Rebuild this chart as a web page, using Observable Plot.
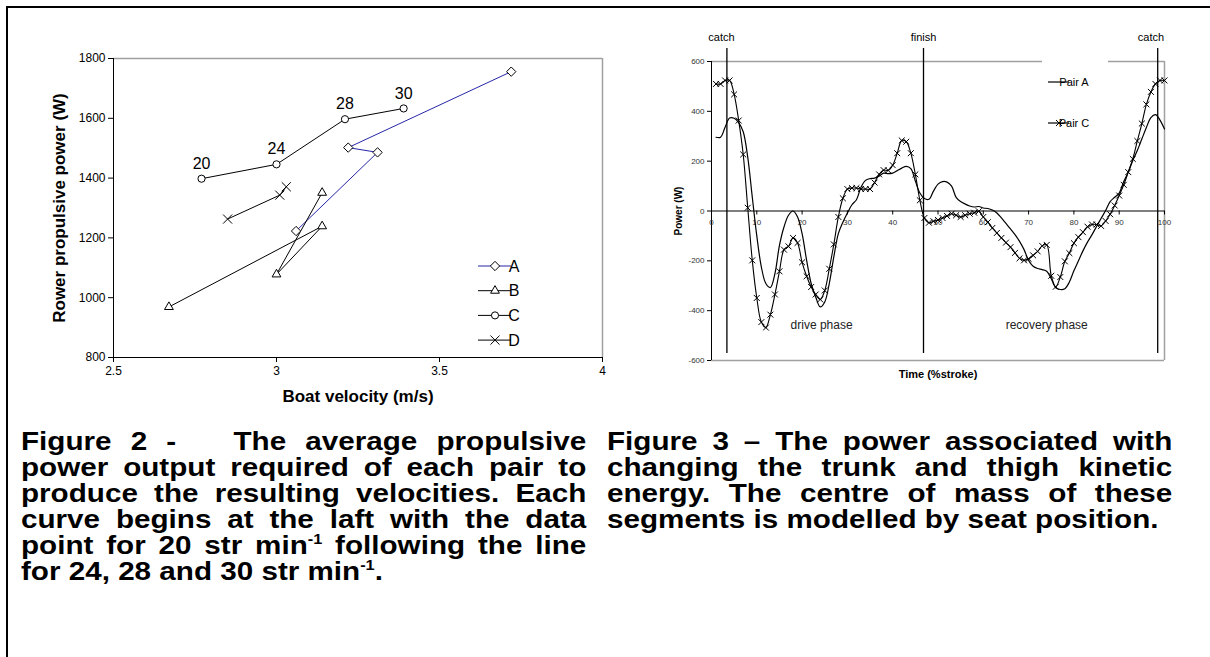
<!DOCTYPE html>
<html><head><meta charset="utf-8">
<script src="https://cdn.jsdelivr.net/npm/d3@7"></script>
<script src="https://cdn.jsdelivr.net/npm/@observablehq/plot@0.6"></script>
<style>
body{margin:0;background:#fff;font-family:"Liberation Sans",Arial,sans-serif;}
#page{position:relative;width:1210px;height:657px;overflow:hidden;background:#fff;}
#border{position:absolute;left:6px;top:6px;width:1400px;height:800px;border-top:2px solid #000;border-left:2px solid #000;}
#left{position:absolute;left:0;top:0;}
#right{position:absolute;left:620px;top:0;}
.cap{position:absolute;top:428px;width:477px;font-weight:bold;font-size:25px;line-height:26px;color:#000;
  font-family:"Liberation Sans",Arial,sans-serif;transform-origin:0 0;transform:scaleX(1.185);}
.cap div{text-align:justify;text-align-last:justify;white-space:normal;}
.cap div.last{text-align:left;text-align-last:left;}
.cap sup{font-size:0.55em;line-height:0;vertical-align:0.75em;}
#cap1{left:21px;}
#cap2{left:607px;}
svg{overflow:visible;}
</style></head>
<body>
<div id="page">
  <div id="border"></div>
  <div id="left"></div>
  <div id="right"></div>
  <div class="cap" id="cap1">
    <div>Figure 2 - &nbsp; The average propulsive</div>
    <div>power output required of each pair to</div>
    <div>produce the resulting velocities. Each</div>
    <div>curve begins at the laft with the data</div>
    <div>point for 20 str min<sup>-1</sup> following the line</div>
    <div class="last">for 24, 28 and 30 str min<sup>-1</sup>.</div>
  </div>
  <div class="cap" id="cap2">
    <div>Figure 3 – The power associated with</div>
    <div>changing the trunk and thigh kinetic</div>
    <div>energy. The centre of mass of these</div>
    <div class="last">segments is modelled by seat position.</div>
  </div>
</div>
<script>
// ---------- Figure 2 data ----------
const pairs = ["A", "B", "C", "D"];
const strokeRates = ["20", "24", "28", "30"];
const velocityA = [3.06, 3.31, 3.22, 3.72];
const powerA    = [1223, 1486, 1502, 1756];
const velocityB = [2.67, 3.14, 3.00, 3.14];
const powerB    = [969, 1239, 1078, 1351];
const velocityC = [2.77, 3.00, 3.21, 3.39];
const powerC    = [1398, 1446, 1597, 1633];
const velocityD = [2.85, 3.01, 3.03];
const powerD    = [1263, 1343, 1371];
const velTicks = [2.5, 3, 3.5, 4];
const powTicks = [800, 1000, 1200, 1400, 1600, 1800];

// ---------- Figure 3 data ----------
const strokeTime = d3.range(1, 101);
const powerPairA = [
  296, 296, 336, 373, 372, 355, 318, 216, 56, -100,
  -224, -291, -307, -251, -138, -64, -17, 0, -24, -91,
  -198, -291, -345, -385, -365, -291, -184, -91, -45, -8,
  25, 45, 95, 123, 130, 132, 140, 152, 150, 152,
  162, 172, 179, 170, 120, 72, 50, 47, 80, 108,
  118, 116, 100, 55, 38, 28, 20, 16, 18, 12,
  10, 4, -8, -28, -50, -72, -95, -122, -155, -198,
  -222, -231, -235, -242, -272, -308, -315, -312, -285, -240,
  -200, -160, -125, -95, -62, -30, 2, 38, 55, 72,
  118, 156, 203, 243, 289, 335, 375, 387, 365, 329];
const powerPairC = [
  510, 510, 524, 524, 468, 363, 227, 13, -198, -349,
  -446, -468, -416, -335, -242, -155, -142, -108, -128, -206,
  -262, -305, -335, -355, -319, -232, -134, -24, 51, 88,
  92, 92, 88, 88, 88, 114, 147, 164, 163, 184,
  232, 283, 278, 232, 147, 43, -28, -47, -41, -36,
  -28, -20, -11, -17, -24, -17, -11, -7, -1, -24,
  -45, -68, -88, -108, -127, -145, -168, -190, -198, -192,
  -178, -162, -140, -136, -260, -304, -265, -202, -169, -129,
  -105, -85, -63, -54, -54, -60, -40, -13, 22, 62,
  105, 156, 209, 281, 351, 428, 478, 510, 524, 524];
const timeTicks = [0, 10, 20, 30, 40, 50, 60, 70, 80, 90, 100];
const powerTicks = [-600, -400, -200, 0, 200, 400, 600];
const events = ["catch", "finish", "catch"];
const eventTime = [3.4, 46.8, 98.5];
const eventLabelTime = [2.2, 46.8, 97.0];
const phases = ["drive phase", "recovery phase"];
const phaseTime = [24.3, 74.0];
const phasePower = [-459, -459];
const legend3 = ["Pair A", "Pair C"];

const FONT = '"Liberation Sans", Arial, sans-serif';

// ---------- Figure 2 ----------
const style2 = {
  A: {v: velocityA, p: powerA, symbol: "diamond2", color: "#2626a8", d3sym: d3.symbolDiamond2},
  B: {v: velocityB, p: powerB, symbol: "triangle2", color: "#000", d3sym: d3.symbolTriangle2},
  C: {v: velocityC, p: powerC, symbol: "circle", color: "#000", d3sym: d3.symbolCircle},
  D: {v: velocityD, p: powerD, symbol: "times", color: "#000", d3sym: d3.symbolTimes}
};
const marks2 = [
  Plot.ruleX([4], {stroke: "#a0a0a0", strokeWidth: 1.5}),
  Plot.ruleY([1800], {stroke: "#a0a0a0", strokeWidth: 1.5}),
  Plot.ruleX([2.5], {stroke: "#000"}),
  Plot.ruleY([800], {stroke: "#000"})
];
for (const k of pairs) {
  const s = style2[k];
  const rows = s.v.map((v, i) => ({v, p: s.p[i], rate: strokeRates[i]}));
  marks2.push(Plot.line(rows, {x: "v", y: "p", stroke: s.color, strokeWidth: 1}));
}
for (const k of pairs) {
  const s = style2[k];
  const rows = s.v.map((v, i) => ({v, p: s.p[i], rate: strokeRates[i]}));
  marks2.push(Plot.dot(rows, {x: "v", y: "p", symbol: s.symbol, r: s.symbol === "circle" ? 3.6 : 4.2,
    stroke: "#000", fill: s.symbol === "times" ? "none" : "#fff", strokeWidth: 1}));
  if (k === "C") {
    marks2.push(Plot.text(rows, {x: "v", y: "p", text: "rate", dy: -15, fontSize: 16, fill: "#000"}));
  }
}
marks2.push(
  Plot.axisX({ticks: velTicks, tickFormat: d => String(d), tickSize: 5, tickPadding: 4, fontSize: 12, label: null}),
  Plot.axisY({ticks: powTicks, tickFormat: d => String(d), tickSize: 5, tickPadding: 3, fontSize: 12, label: null}),
  Plot.text(["Boat velocity (m/s)"], {text: d => d, frameAnchor: "bottom", dy: 44, fontSize: 17, fontWeight: "bold", textAnchor: "middle"}),
  Plot.text(["Rower propulsive power (W)"], {text: d => d, frameAnchor: "left", dx: -54, rotate: -90, fontSize: 17, fontWeight: "bold", textAnchor: "middle"})
);
const chart2 = Plot.plot({
  width: 640, height: 420,
  marginLeft: 113, marginRight: 38, marginTop: 58, marginBottom: 63,
  x: {domain: [2.5, 4]}, y: {domain: [800, 1800]},
  style: {fontFamily: FONT, background: "transparent", color: "#000"},
  marks: marks2
});
document.getElementById("left").appendChild(chart2);
{
  const g = d3.select(chart2).append("g").attr("font-family", FONT);
  pairs.forEach((k, i) => {
    const s = style2[k];
    const y = 266 + i * 24.7;
    g.append("line").attr("x1", 478).attr("x2", 511).attr("y1", y).attr("y2", y)
      .attr("stroke", s.color).attr("stroke-width", 1);
    g.append("path").attr("d", d3.symbol(s.d3sym, s.symbol === "circle" ? 40 : 55)())
      .attr("transform", `translate(495,${y})`).attr("fill", s.symbol === "times" ? "none" : "#fff")
      .attr("stroke", "#000").attr("stroke-width", 1);
    g.append("text").attr("x", 514).attr("y", y).attr("dy", "0.35em").attr("font-size", 16).text(k);
  });
}

// ---------- Figure 3 ----------
const rowsA = strokeTime.map((t, i) => ({t, w: powerPairA[i]}));
const rowsC = strokeTime.map((t, i) => ({t, w: powerPairC[i]}));
const chart3 = Plot.plot({
  width: 590, height: 400,
  marginLeft: 91, marginRight: 46, marginTop: 61, marginBottom: 40,
  x: {domain: [0, 100], axis: null}, y: {domain: [-600, 600]},
  style: {fontFamily: FONT, background: "transparent", color: "#000"},
  marks: [
    Plot.ruleY([600], {stroke: "#a0a0a0", strokeWidth: 1.5}),
    Plot.ruleY([-600], {stroke: "#a0a0a0", strokeWidth: 1.5}),
    Plot.ruleX([100], {stroke: "#a0a0a0", strokeWidth: 1.5}),
    Plot.ruleX([0], {stroke: "#000"}),
    Plot.ruleY([0], {stroke: "#000"}),
    Plot.ruleX(timeTicks, {x: d => d, y1: 0, y2: -16, stroke: "#000"}),
    Plot.text(timeTicks, {x: d => d, y: 0, dy: 11, text: d => String(d), fontSize: 8, fill: "#333"}),
    Plot.axisY({ticks: powerTicks, tickFormat: d => String(d), tickSize: 4, tickPadding: 3, fontSize: 8, label: null, fill: "#333"}),
    Plot.ruleX(eventTime, {x: d => d, y1: -572, y2: 652, stroke: "#000", strokeWidth: 1.3}),
    Plot.text(events, {x: (d, i) => eventLabelTime[i], text: d => d, frameAnchor: "top", dy: -28, fontSize: 11}),
    Plot.text(phases, {x: (d, i) => phaseTime[i], y: (d, i) => phasePower[i], text: d => d, fontSize: 12, fill: "#222"}),
    Plot.line(rowsA, {x: "t", y: "w", curve: "catmull-rom", stroke: "#000", strokeWidth: 1.2}),
    Plot.line(rowsC, {x: "t", y: "w", curve: "catmull-rom", stroke: "#000", strokeWidth: 1.1}),
    Plot.dot(rowsC, {x: "t", y: "w", symbol: "times", r: 2.8, stroke: "#000", strokeWidth: 1}),
    Plot.text(["Power (W)"], {text: d => d, frameAnchor: "left", dx: -33, rotate: -90, fontSize: 10, fontWeight: "bold", textAnchor: "middle"}),
    Plot.text(["Time (%stroke)"], {text: d => d, frameAnchor: "bottom", dy: 17, fontSize: 11, fontWeight: "bold", textAnchor: "middle"})
  ]
});
document.getElementById("right").appendChild(chart3);
{
  const g = d3.select(chart3).append("g").attr("font-family", FONT);
  g.append("rect").attr("x", 422).attr("y", 58).attr("width", 66).attr("height", 7).attr("fill", "#fff");
  legend3.forEach((name, i) => {
    const y = 82 + i * 41;
    g.append("line").attr("x1", 428).attr("x2", 449).attr("y1", y).attr("y2", y).attr("stroke", "#000").attr("stroke-width", 1.2);
    if (i === 1) {
      g.append("path").attr("d", d3.symbol(d3.symbolTimes, 25)()).attr("transform", `translate(439,${y})`)
        .attr("stroke", "#000").attr("fill", "none");
    }
    g.append("text").attr("x", 454).attr("y", y).attr("dy", "0.35em").attr("font-size", 11).text(name);
  });
}
</script>
</body></html>
